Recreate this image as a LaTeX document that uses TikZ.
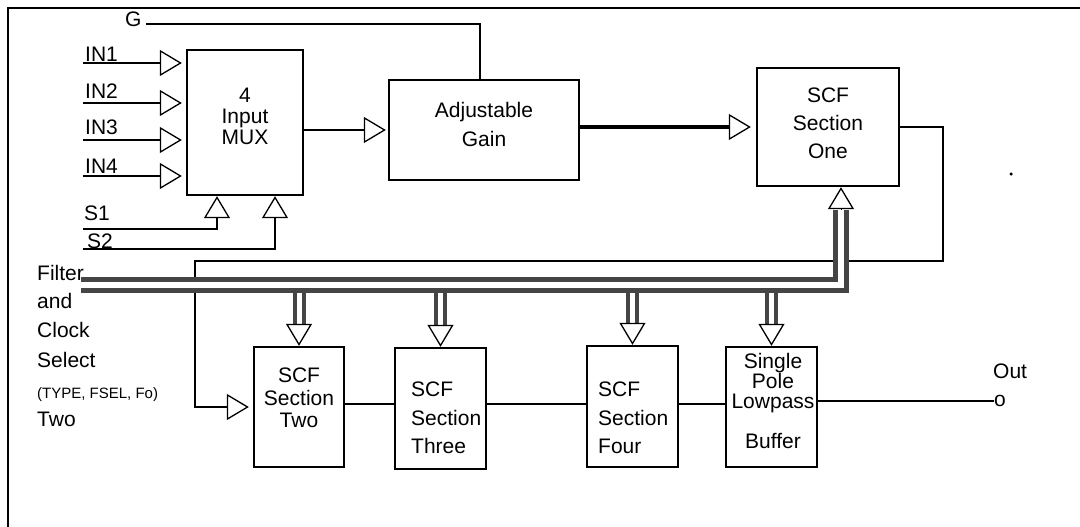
\documentclass[tikz,border=0pt]{standalone}
\usepackage{fontspec}
\setmainfont{Liberation Sans}
\usetikzlibrary{arrows.meta}
\definecolor{busgray}{HTML}{454545}

\begin{document}
\begin{tikzpicture}[x=1pt,y=-1pt,
  every node/.style={inner sep=0pt, font=\fontsize{21}{28}\selectfont},
  block/.style={draw, line width=2.4pt},
  wire/.style={line width=2.6pt},
  thinwire/.style={line width=1.8pt},
  thickwire/.style={line width=3.6pt},
  tri/.style={-{Triangle[open,length=22pt,width=26pt,line width=1.3pt]}},
  bus/.style={draw=busgray, line width=5pt, double=white, double distance=6pt, line join=miter},
  drop/.style={draw=busgray, line width=4pt, double=white, double distance=5pt},
  lbl/.style={anchor=base west}]

\useasboundingbox (0,0) rectangle (1080,527);

% outer frame
\draw[line width=2.4pt] (8,527) -- (8,8) -- (1080,8);

% blocks
\node[block, minimum width=116pt, minimum height=145pt] (mux)    at (245,122.5) {};
\node[block, minimum width=190pt, minimum height=100pt] (gain)   at (484,130) {};
\node[block, minimum width=142pt, minimum height=118pt] (scf1)   at (828,127) {};
\node[block, minimum width=90pt,  minimum height=120pt] (scf2)   at (299,407) {};
\node[block, minimum width=91pt,  minimum height=121pt] (scf3)   at (440.5,408.5) {};
\node[block, minimum width=91pt,  minimum height=121pt] (scf4)   at (632.5,406.5) {};
\node[block, minimum width=91pt,  minimum height=120pt] (single) at (771.5,407) {};

% block texts
\node[align=center, font=\fontsize{21}{21}\selectfont] (muxtext) at (245,116) {4\\Input\\MUX};
\node[align=center, font=\fontsize{21}{29}\selectfont] (gaintext) at (484,124) {Adjustable\\Gain};
\node[align=center, font=\fontsize{21}{28}\selectfont] (scf1text) at (828,123.5) {SCF\\Section\\One};
\node[align=center, font=\fontsize{21}{22.5}\selectfont] (scf2text) at (299,398) {SCF\\Section\\Two};
\node[align=left, anchor=west, font=\fontsize{21}{28.5}\selectfont] (scf3text) at (411,418) {SCF\\Section\\Three};
\node[align=left, anchor=west, font=\fontsize{21}{28.5}\selectfont] (scf4text) at (598,418) {SCF\\Section\\Four};
\node[align=center, font=\fontsize{21}{20}\selectfont] (singletext) at (773,400.5) {Single\\Pole\\Lowpass\\[20pt]Buffer};

% analog inputs into the multiplexer
\foreach \n/\y/\by in {1/63/62, 2/103/99, 3/140/135, 4/176/173} {
  \node[lbl] (in\n) at (85,\by) {IN\n};
  \coordinate (in\n-w) at (83,\y);
  \draw[wire, tri, shorten >=4pt] (in\n-w) -- (in\n-w -| mux.west);
}

% select lines
\node[lbl] (s1) at (84,220) {S1};
\node[lbl] (s2) at (87,248) {S2};
\coordinate (s1-w) at (83,229);
\coordinate (s2-w) at (83,249);
\draw[wire, tri] (s1-w) -| ([xshift=-28pt]mux.south);
\draw[wire, tri] (s2-w) -| ([xshift=30pt]mux.south);

% gain control
\node[lbl] (g) at (125,27) {G};
\coordinate (g-e) at (146,24);
\draw[wire] (g-e) -| ([xshift=-4pt]gain.north);

% main signal path
\draw[wire, tri, shorten >=2pt] (mux.east |- gain.west) -- (gain.west);
\draw[thickwire, tri, shorten >=5pt] (gain.east |- scf1.west) -- (scf1.west);

% feedback from section one to section two
\coordinate (fb-r) at (943,261);
\coordinate (fb-l) at (195,261);
\draw[thinwire, tri, shorten >=4pt] (scf1.east) -| (fb-r) -- (fb-l) |- (scf2.west);

% chain of sections
\coordinate (chain) at (0,404);
\draw[wire] (scf2.east |- chain) -- (scf3.west |- chain);
\draw[wire] (scf3.east |- chain) -- (scf4.west |- chain);
\draw[wire] (scf4.east |- chain) -- (single.west |- chain);

% output
\node (out) at (1000,401) {o};
\node[lbl] (outlabel) at (993,378) {Out};
\draw[thinwire] (single.east |- out) -- (out.west);

\node[circle, fill, minimum size=3.5pt] (dot) at (1011,174) {};

% filter and clock select bus
\node[lbl] (fcs1) at (37,280) {Filter};
\node[lbl] (fcs2) at (37,308) {and};
\node[lbl] (fcs3) at (37,337) {Clock};
\node[lbl] (fcs4) at (37,367) {Select};
\node[lbl, font=\fontsize{15}{18}\selectfont] (fcs5) at (37,398) {(TYPE, FSEL, Fo)};
\node[lbl] (fcs6) at (37,426) {Two};

\coordinate (bus-low) at (0,290);
\foreach \b in {scf2,scf3,scf4,single} {
  \coordinate (\b-tri) at ([yshift=22pt]\b.north);
  \draw[drop] (\b-tri |- bus-low) -- (\b-tri);
  \draw[tri] (\b-tri) -- (\b.north);
}

\coordinate (bus-w) at (81,285);
\coordinate (bus-up) at ([xshift=13pt,yshift=-23pt]scf1.south);
\draw[bus] (bus-w) -- (bus-w -| bus-up) -- (bus-up);
\draw[tri] (bus-up) -- (bus-up |- scf1.south);

\end{tikzpicture}
\end{document}
